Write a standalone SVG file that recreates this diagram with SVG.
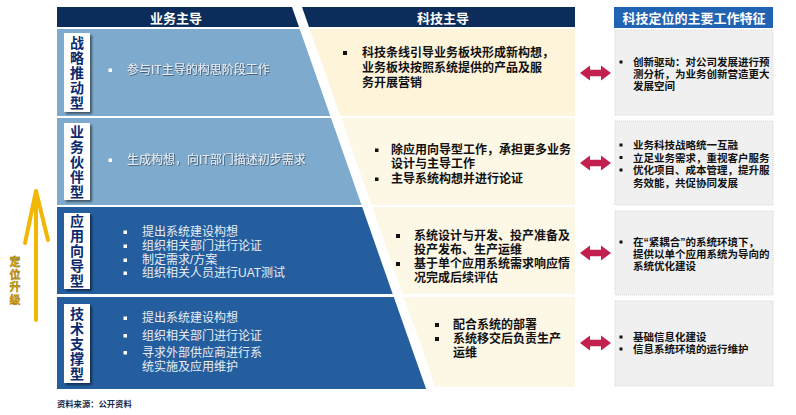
<svg xmlns="http://www.w3.org/2000/svg" width="796" height="415" viewBox="0 0 796 415">
<style>
text{font-family:"Liberation Sans","Noto Sans CJK SC",sans-serif;dominant-baseline:central}
.hdr{fill:#fff;font-size:13px;font-weight:bold;text-anchor:middle}
.lab{fill:#0B2A6E;font-size:14px;font-weight:bold;text-anchor:middle}
.lt{fill:#E9EEF4;font-size:12px}
.emb{filter:url(#emb)}
.mt{fill:#111;font-size:12px;font-weight:bold}
.rt{fill:#111;font-size:10.5px;font-weight:bold}
.lbox{fill:#fff;filter:url(#sh)}
.rbox{fill:#F0F0F0;stroke:#D6D6D6;stroke-width:1;stroke-dasharray:1 1}
.wb{fill:#fff}
.bb{fill:#111}
.dbl{fill:#C4204F}
</style>
<defs>
<filter id="sh" x="-30%" y="-10%" width="160%" height="120%"><feDropShadow dx="2" dy="2" stdDeviation="1.2" flood-color="#000" flood-opacity="0.5"/></filter>
<filter id="emb" x="-5%" y="-30%" width="110%" height="160%"><feDropShadow dx="0.8" dy="0.8" stdDeviation="0.3" flood-color="#2A3A50" flood-opacity="0.8"/></filter>
<path id="dArrow" d="M0,0 L10,-7.5 L10,-3.2 L21,-3.2 L21,-7.5 L31,0 L21,7.5 L21,3.2 L10,3.2 L10,7.5 Z"/>
</defs>

<!-- headers -->
<g id="hdr-business">
<polygon points="57,7 292,7 299,27 57,27" fill="#0C2D5B"/>
<text class="hdr" x="176" y="18">业务主导</text>
</g>
<g id="hdr-tech">
<polygon points="302,7 575,7 575,27 309,27" fill="#0C2D5B"/>
<text class="hdr" x="443" y="18">科技主导</text>
</g>
<g id="hdr-feature">
<rect x="614" y="7" width="159" height="21" fill="#2163B3"/>
<text class="hdr" x="694" y="18">科技定位的主要工作特征</text>
</g>

<!-- row 1 -->
<g id="row1-left">
<polygon points="57,29 299.7,29 330.3,116 57,116" fill="#7EABCD"/>
<rect class="lbox" x="64" y="33" width="26" height="79"/>
<text class="lab" x="77" y="43">战</text>
<text class="lab" x="77" y="58">略</text>
<text class="lab" x="77" y="73">推</text>
<text class="lab" x="77" y="88">动</text>
<text class="lab" x="77" y="103">型</text>
<rect class="wb" x="108.5" y="68.5" width="3.5" height="3.5"/>
<text class="lt emb" x="127" y="70">参与IT主导的构思阶段工作</text>
</g>
<g id="row1-mid">
<polygon points="309.7,29 575,29 575,116 340.3,116" fill="#FEF4DA"/>
<rect class="bb" x="343" y="51" width="4" height="4"/>
<text class="mt" x="362" y="53">科技条线引导业务板块形成新构想，</text>
<text class="mt" x="362" y="68">业务板块按照系统提供的产品及服</text>
<text class="mt" x="362" y="83">务开展营销</text>
</g>
<g id="row1-right">
<rect class="rbox" x="615" y="30" width="158" height="85"/>
<rect class="bb" x="619.5" y="60.5" width="3" height="3"/>
<text class="rt" x="633" y="62">创新驱动：对公司发展进行预</text>
<text class="rt" x="633" y="74">测分析，为业务创新营造更大</text>
<text class="rt" x="633" y="86">发展空间</text>
</g>

<!-- row 2 -->
<g id="row2-left">
<polygon points="57,118 331,118 361.5,205 57,205" fill="#7EABCD"/>
<rect class="lbox" x="64" y="123" width="26" height="77"/>
<text class="lab" x="77" y="132">业</text>
<text class="lab" x="77" y="147">务</text>
<text class="lab" x="77" y="162">伙</text>
<text class="lab" x="77" y="177">伴</text>
<text class="lab" x="77" y="192">型</text>
<rect class="wb" x="108.5" y="158.5" width="3.5" height="3.5"/>
<text class="lt emb" x="127" y="160">生成构想，向IT部门描述初步需求</text>
</g>
<g id="row2-mid">
<polygon points="341,118 575,118 575,205 371.5,205" fill="#FDF7E6"/>
<rect class="bb" x="375" y="148.5" width="3.5" height="3.5"/>
<text class="mt" x="391" y="150">除应用向导型工作，承担更多业务</text>
<text class="mt" x="391" y="164">设计与主导工作</text>
<rect class="bb" x="375" y="177.5" width="3.5" height="3.5"/>
<text class="mt" x="391" y="179">主导系统构想并进行论证</text>
</g>
<g id="row2-right">
<rect class="rbox" x="615" y="121" width="158" height="84"/>
<rect class="bb" x="619.5" y="143.5" width="3" height="3"/>
<text class="rt" x="633" y="145">业务科技战略统一互融</text>
<rect class="bb" x="619.5" y="156" width="3" height="3"/>
<text class="rt" x="633" y="157.5">立足业务需求，重视客户服务</text>
<rect class="bb" x="619.5" y="168.5" width="3" height="3"/>
<text class="rt" x="633" y="170">优化项目、成本管理，提升服</text>
<text class="rt" x="633" y="182.5">务效能，共促协同发展</text>
</g>

<!-- row 3 -->
<g id="row3-left">
<polygon points="57,207 362.2,207 392.7,294 57,294" fill="#245E9E"/>
<rect class="lbox" x="64" y="213" width="26" height="76"/>
<text class="lab" x="77" y="221">应</text>
<text class="lab" x="77" y="236">用</text>
<text class="lab" x="77" y="251">向</text>
<text class="lab" x="77" y="266">导</text>
<text class="lab" x="77" y="281">型</text>
<rect class="wb" x="123.5" y="230.5" width="3.5" height="3.5"/>
<text class="lt" x="142" y="232">提出系统建设构想</text>
<rect class="wb" x="123.5" y="244.5" width="3.5" height="3.5"/>
<text class="lt" x="142" y="246">组织相关部门进行论证</text>
<rect class="wb" x="123.5" y="258.5" width="3.5" height="3.5"/>
<text class="lt" x="142" y="260">制定需求/方案</text>
<rect class="wb" x="123.5" y="271.5" width="3.5" height="3.5"/>
<text class="lt" x="142" y="273">组织相关人员进行UAT测试</text>
</g>
<g id="row3-mid">
<polygon points="372.2,207 575,207 575,294 402.7,294" fill="#FDF7E6"/>
<rect class="bb" x="396" y="234" width="4" height="4"/>
<text class="mt" x="414" y="236">系统设计与开发、投产准备及</text>
<text class="mt" x="414" y="250">投产发布、生产运维</text>
<rect class="bb" x="396" y="262" width="4" height="4"/>
<text class="mt" x="414" y="264">基于单个应用系统需求响应情</text>
<text class="mt" x="414" y="278">况完成后续评估</text>
</g>
<g id="row3-right">
<rect class="rbox" x="615" y="211" width="158" height="84"/>
<rect class="bb" x="619.5" y="240.5" width="3" height="3"/>
<text class="rt" x="633" y="242">在“紧耦合”的系统环境下，</text>
<text class="rt" x="633" y="254">提供以单个应用系统为导向的</text>
<text class="rt" x="633" y="266">系统优化建设</text>
</g>

<!-- row 4 -->
<g id="row4-left">
<polygon points="57,297 393.8,297 426.1,389 57,389" fill="#245E9E"/>
<rect class="lbox" x="64" y="304" width="26" height="79"/>
<text class="lab" x="77" y="314">技</text>
<text class="lab" x="77" y="329">术</text>
<text class="lab" x="77" y="344">支</text>
<text class="lab" x="77" y="359">撑</text>
<text class="lab" x="77" y="374">型</text>
<rect class="wb" x="123.5" y="316.5" width="3.5" height="3.5"/>
<text class="lt" x="142" y="318">提出系统建设构想</text>
<rect class="wb" x="123.5" y="334" width="3.5" height="3.5"/>
<text class="lt" x="142" y="336">组织相关部门进行论证</text>
<rect class="wb" x="123.5" y="351" width="3.5" height="3.5"/>
<text class="lt" x="142" y="353">寻求外部供应商进行系</text>
<text class="lt" x="142" y="367">统实施及应用维护</text>
</g>
<g id="row4-mid">
<polygon points="403.8,297 575,297 575,387 435.4,387" fill="#FDF7E6"/>
<rect class="bb" x="435" y="323" width="4" height="4"/>
<text class="mt" x="453" y="325">配合系统的部署</text>
<rect class="bb" x="435" y="337" width="4" height="4"/>
<text class="mt" x="453" y="339">系统移交后负责生产</text>
<text class="mt" x="453" y="353">运维</text>
</g>
<g id="row4-right">
<rect class="rbox" x="615" y="301" width="158" height="85"/>
<rect class="bb" x="619.5" y="335.5" width="3" height="3"/>
<text class="rt" x="633" y="337">基础信息化建设</text>
<rect class="bb" x="619.5" y="347.5" width="3" height="3"/>
<text class="rt" x="633" y="349">信息系统环境的运行维护</text>
</g>

<!-- connectors -->
<g id="connectors" class="dbl">
<use href="#dArrow" x="580" y="73"/>
<use href="#dArrow" x="580" y="163"/>
<use href="#dArrow" x="580" y="253"/>
<use href="#dArrow" x="580" y="343"/>
</g>

<!-- upgrade arrow -->
<g id="upgrade">
<path d="M36,320 L36,194" stroke="#F2B705" stroke-width="4" stroke-linecap="round" fill="none"/>
<path d="M25,243 L36,191 L48,240" stroke="#F2B705" stroke-width="4" stroke-linejoin="round" stroke-linecap="round" fill="none"/>
<g fill="#E3A800" stroke="#6B5000" stroke-width="0.3" font-size="11" font-weight="bold" text-anchor="middle">
<text x="15" y="262">定</text>
<text x="15" y="274.5">位</text>
<text x="15" y="287">升</text>
<text x="15" y="299.5">级</text>
</g>
</g>

<text x="57" y="404" fill="#1A2A4A" font-size="8.3" font-weight="bold">资料来源：公开资料</text>
</svg>
